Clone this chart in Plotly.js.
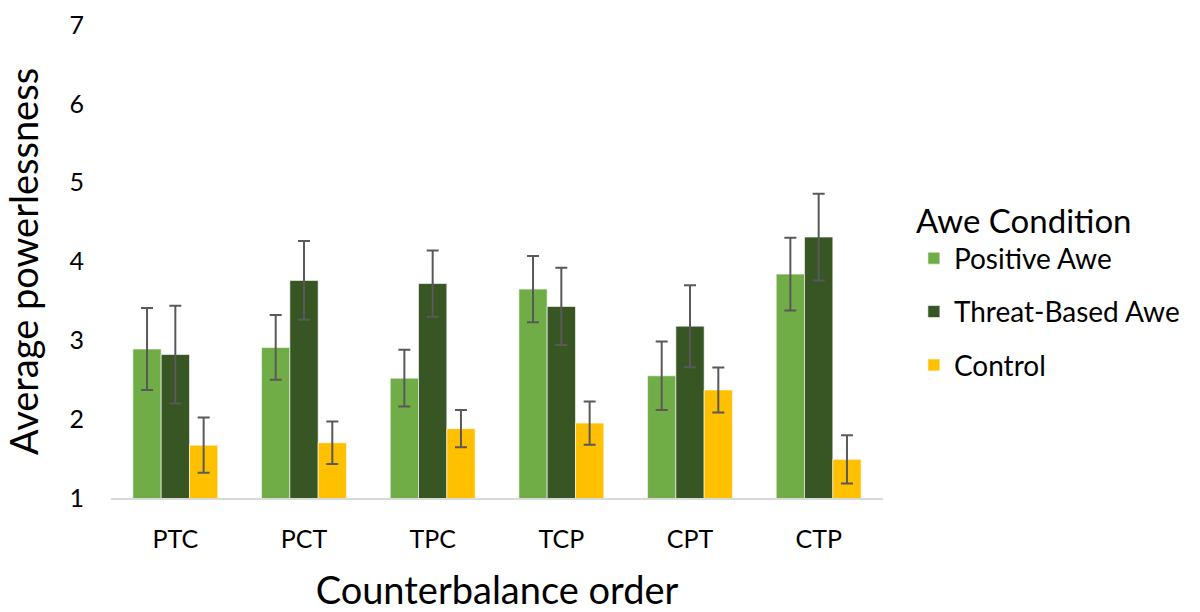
<!DOCTYPE html>
<html>
<head>
<meta charset="utf-8">
<script src="https://cdn.plot.ly/plotly-3.0.1.min.js"></script>
<style>html,body{margin:0;padding:0;background:#fff;}#chart{width:1200px;height:612px;}</style>
</head>
<body>
<div id="chart"></div>
<script>
const categories = ["PTC", "PCT", "TPC", "TCP", "CPT", "CTP"];
const positiveAwe = [2.89, 2.91, 2.52, 3.65, 2.55, 3.84];
const positiveErr = [0.52, 0.41, 0.36, 0.42, 0.435, 0.46];
const threatAwe = [2.82, 3.76, 3.72, 3.43, 3.18, 4.31];
const threatErr = [0.62, 0.50, 0.42, 0.49, 0.52, 0.55];
const control = [1.67, 1.70, 1.88, 1.95, 2.37, 1.49];
const controlErr = [0.35, 0.27, 0.235, 0.275, 0.285, 0.305];
const yTicks = [1, 2, 3, 4, 5, 6, 7];

const FONT = "Lato, 'Open Sans', sans-serif";
function series(name, y, err, color, grp) {
  return {
    type: "bar", name: name, x: categories, y: y,
    base: 0,
    legendgroup: grp,
    marker: {color: color, line: {color: "rgba(255,255,255,0.6)", width: 1}},
    error_y: {type: "data", array: err, visible: true, color: "#595959", thickness: 2, width: 6}
  };
}
const data = [
  series("Positive Awe", positiveAwe, positiveErr, "#70AD47", "a"),
  series("Threat-Based Awe", threatAwe, threatErr, "#375623", "b"),
  series("Control", control, controlErr, "#FFC000", "c")
];
const layout = {
  width: 1200, height: 612,
  margin: {l: 111, r: 317, t: 25, b: 114},
  paper_bgcolor: "#fff", plot_bgcolor: "#fff",
  font: {family: FONT, color: "#000"},
  barmode: "group", bargap: 0.34, bargroupgap: 0,
  showlegend: true,
  legend: {
    x: 1.04, xanchor: "left", y: 0.65, yanchor: "top",
    title: {text: "Awe Condition", font: {size: 33, family: FONT, color: "#000"}},
    font: {size: 28, family: FONT, color: "#000"},
    tracegroupgap: 14, itemwidth: 30
  },
  xaxis: {
    type: "category",
    showline: true, linecolor: "#d9d9d9", linewidth: 2,
    ticks: "", ticklabelstandoff: 18,
    tickfont: {size: 25, family: FONT, color: "#000"},
    title: {text: "Counterbalance order", font: {size: 38, family: FONT, color: "#000"}, standoff: 30}
  },
  yaxis: {
    range: [1, 7], tickvals: yTicks, ticktext: yTicks.map(String),
    showgrid: false, zeroline: false, showline: false, ticks: "",
    ticklabelstandoff: 26,
    tickfont: {size: 25, family: FONT, color: "#000"},
    title: {text: "Average powerlessness", font: {size: 38, family: FONT, color: "#000"}, standoff: 22}
  }
};
Plotly.newPlot("chart", data, layout, {displayModeBar: false, staticPlot: true});
</script>
</body>
</html>
